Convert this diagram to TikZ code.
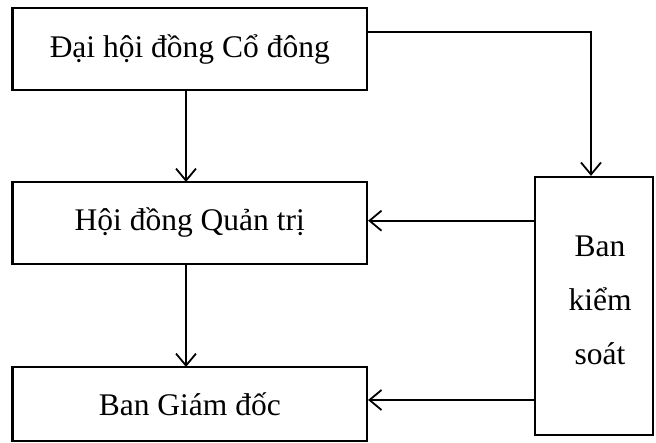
\documentclass[tikz,border=0pt]{standalone}
\usepackage{fontspec}
\setmainfont{Liberation Serif}
\usetikzlibrary{arrows.meta}
\begin{document}
\begin{tikzpicture}[x=1pt,y=1pt,
  boxstyle/.style={draw, line width=2.2pt, inner sep=0pt, font=\fontsize{31.5}{54}\selectfont},
  conn/.style={line width=2pt, -{Straight Barb[length=12pt,width=20pt,line width=1.8pt]}}]
\useasboundingbox (0,0) rectangle (656,443);
\node[boxstyle, minimum width=354.5pt, minimum height=82pt] (dh) at (189.75,394) {Đại hội đồng Cổ đông};
\node[boxstyle, minimum width=354.5pt, minimum height=82pt] (hd) at (189.75,220) {Hội đồng Quản trị};
\node[boxstyle, minimum width=354.5pt, minimum height=74pt] (bg) at (189.75,39) {Ban Giám đốc};
\node[boxstyle, minimum width=118pt, minimum height=258pt] (bk) at (594,137) {};
\node[font=\fontsize{31.5}{54}\selectfont, align=center, inner sep=0pt] (bkt) at (600,143) {Ban\\kiểm\\soát};
\coordinate (c1) at (591,411.3);
\draw[conn] (dh.east |- c1) -- (c1) -- (c1 |- bk.north);
\draw[conn] (186,353) -- (186,261);
\draw[conn] (186,179) -- (186,76);
\draw[conn] (bk.west |- 0,222.3) -- (hd.east |- 0,222.3);
\draw[conn] (bk.west |- 0,43) -- (bg.east |- 0,43);
\end{tikzpicture}
\end{document}
